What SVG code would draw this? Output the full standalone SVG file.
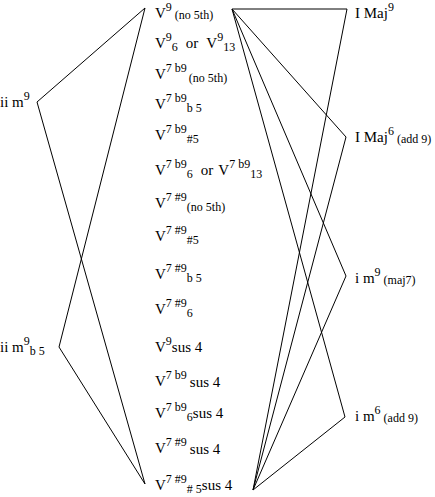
<svg xmlns="http://www.w3.org/2000/svg" width="435" height="497" viewBox="0 0 435 497">
<style>
text{font-family:"Liberation Serif","Times New Roman",serif;font-size:15px;fill:#000}
.s{font-size:12px}
.c line{stroke:#000;stroke-width:1;fill:none}
</style>
<rect width="435" height="497" fill="#fff"/>
<g class="c" id="connectors">
<line x1="145" y1="8" x2="37" y2="102"/>
<line x1="145" y1="8" x2="59" y2="347"/>
<line x1="37" y1="102" x2="145" y2="484"/>
<line x1="59" y1="347" x2="145" y2="484"/>
<line x1="232" y1="9" x2="347" y2="9"/>
<line x1="347" y1="9" x2="253" y2="490"/>
<line x1="232" y1="9" x2="346" y2="137"/>
<line x1="346" y1="137" x2="253" y2="490"/>
<line x1="232" y1="9" x2="346" y2="276"/>
<line x1="346" y1="276" x2="253" y2="490"/>
<line x1="232" y1="9" x2="345" y2="417"/>
<line x1="345" y1="417" x2="253" y2="490"/>
</g>
<g id="n-iim9"><text x="0" y="107">ii m<tspan class="s" dy="-7">9</tspan></text></g>
<g id="n-iim9b5"><text x="0" y="352">ii m<tspan class="s" dy="-7">9</tspan><tspan class="s" dy="10">b 5</tspan></text></g>
<g id="n-v1"><text x="155" y="18">V<tspan class="s" dy="-7">9</tspan><tspan class="s" dx="3" dy="8">(no 5th)</tspan></text></g>
<g id="n-v2"><text x="155" y="48">V<tspan class="s" dy="-7">9</tspan><tspan class="s" dy="10">6</tspan><tspan dx="8" dy="-3">or</tspan><tspan dx="8">V</tspan><tspan class="s" dy="-7">9</tspan><tspan class="s" dy="10">13</tspan></text></g>
<g id="n-v3"><text x="155" y="79">V<tspan class="s" dy="-7">7 b9</tspan><tspan class="s" dx="2" dy="10">(no 5th)</tspan></text></g>
<g id="n-v4"><text x="155" y="109">V<tspan class="s" dy="-7">7 b9</tspan><tspan class="s" dy="10">b 5</tspan></text></g>
<g id="n-v5"><text x="155" y="140">V<tspan class="s" dy="-7">7 b9</tspan><tspan class="s" dy="10">#5</tspan></text></g>
<g id="n-v6"><text x="155" y="175">V<tspan class="s" dy="-7">7 b9</tspan><tspan class="s" dy="10">6</tspan><tspan dx="8" dy="-3">or</tspan><tspan dx="5">V</tspan><tspan class="s" dy="-7">7 b9</tspan><tspan class="s" dy="10">13</tspan></text></g>
<g id="n-v7"><text x="155" y="208">V<tspan class="s" dy="-7">7 #9</tspan><tspan class="s" dy="10">(no 5th)</tspan></text></g>
<g id="n-v8"><text x="155" y="241">V<tspan class="s" dy="-7">7 #9</tspan><tspan class="s" dy="10">#5</tspan></text></g>
<g id="n-v9"><text x="155" y="279">V<tspan class="s" dy="-7">7 #9</tspan><tspan class="s" dy="10">b 5</tspan></text></g>
<g id="n-v10"><text x="155" y="314">V<tspan class="s" dy="-7">7 #9</tspan><tspan class="s" dy="10">6</tspan></text></g>
<g id="n-v11"><text x="155" y="352">V<tspan class="s" dy="-7">9</tspan><tspan dy="7">sus 4</tspan></text></g>
<g id="n-v12"><text x="155" y="386">V<tspan class="s" dy="-7">7 b9</tspan><tspan dx="3" dy="8">sus 4</tspan></text></g>
<g id="n-v13"><text x="155" y="418">V<tspan class="s" dy="-7">7 b9</tspan><tspan class="s" dy="10">6</tspan><tspan dy="-3">sus 4</tspan></text></g>
<g id="n-v14"><text x="155" y="453">V<tspan class="s" dy="-7">7 #9</tspan><tspan dx="3" dy="8">sus 4</tspan></text></g>
<g id="n-v15"><text x="155" y="490">V<tspan class="s" dy="-7">7 #9</tspan><tspan class="s" dy="10"># 5</tspan><tspan dy="-3">sus 4</tspan></text></g>
<g id="n-imaj9"><text x="355" y="18">I Maj<tspan class="s" dy="-7">9</tspan></text></g>
<g id="n-imaj6"><text x="355" y="142">I Maj<tspan class="s" dy="-7">6</tspan><tspan class="s" dx="3" dy="8">(add 9)</tspan></text></g>
<g id="n-im9"><text x="355" y="283">i m<tspan class="s" dy="-7">9</tspan><tspan class="s" dx="3" dy="8">(maj7)</tspan></text></g>
<g id="n-im6"><text x="355" y="421">i m<tspan class="s" dy="-7">6</tspan><tspan class="s" dx="3" dy="8">(add 9)</tspan></text></g>
</svg>
